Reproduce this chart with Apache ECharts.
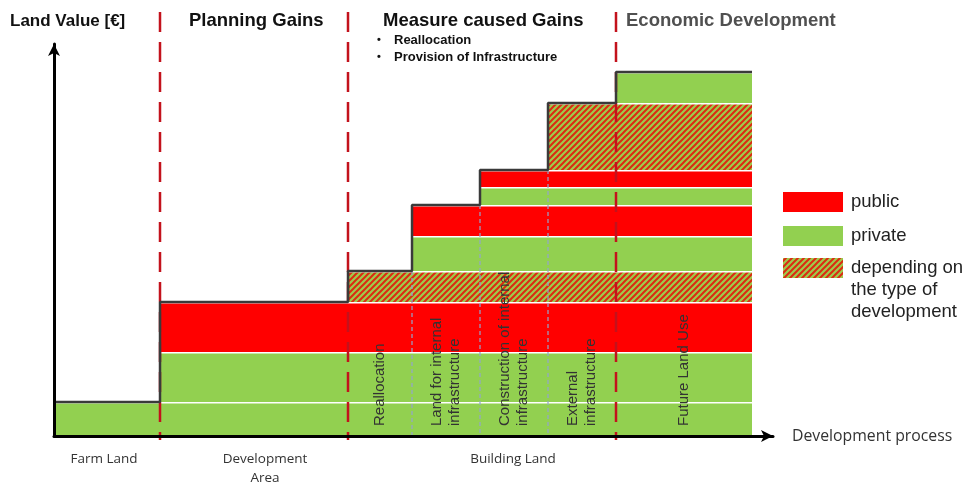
<!DOCTYPE html>
<html>
<head>
<meta charset="utf-8">
<script src="https://cdn.jsdelivr.net/npm/echarts@6/dist/echarts.min.js"></script>
<style>
html, body { margin: 0; padding: 0; background: #fff; }
#chart { width: 969px; height: 482px; }
</style>
</head>
<body>
<div id="chart"></div>
<script>
// column boundaries along the development process
const columnEdges = [0, 106, 294, 358, 426, 494, 562, 698];
const columnNames = ['', '', 'Reallocation', 'Land for internal\ninfrastructure',
    'Construction of internal\ninfrastructure', 'External\ninfrastructure', 'Future Land Use'];
// value layers, bottom to top
const layerHeights = [34, 50, 50, 31, 35, 31, 18, 17, 67, 31];
const layerTypes = [1, 1, 0, 2, 1, 0, 1, 0, 2, 1]; // 0 public, 1 private, 2 depending
const layerFromColumn = [0, 1, 1, 2, 3, 3, 4, 4, 5, 6];
// red phase dividers sit on these column edges, blue ones on the others
const phaseEdgeIdx = [1, 2, 6];
const stepEdgeIdx = [3, 4, 5];
const areaNames = ['Farm Land', 'Development\nArea', 'Building Land'];
const areaCenters = [50, 211, 459];
const legendNames = ['public', 'private', 'depending on\nthe type of\ndevelopment'];

const RED = '#ff0000';
const GREEN = '#92d050';

function hatchCanvas() {
    const s = 6;
    const c = document.createElement('canvas');
    c.width = s;
    c.height = s;
    const g = c.getContext('2d');
    g.fillStyle = '#9ecb4c';
    g.fillRect(0, 0, s, s);
    g.strokeStyle = '#dc2a12';
    g.lineWidth = 2;
    g.beginPath();
    g.moveTo(-1, s + 1); g.lineTo(s + 1, -1);
    g.moveTo(-1, 1); g.lineTo(1, -1);
    g.moveTo(s - 1, s + 1); g.lineTo(s + 1, s - 1);
    g.stroke();
    return c;
}
const HATCH = {image: hatchCanvas(), repeat: 'repeat'};
const fills = [RED, GREEN, HATCH];

const chart = echarts.init(document.getElementById('chart'));

// layer rectangles
const lastX = columnEdges[columnEdges.length - 1];
const layerData = [];
let base = 0;
layerHeights.forEach((h, i) => {
    layerData.push([columnEdges[layerFromColumn[i]], lastX, base, base + h, layerTypes[i]]);
    base += h;
});

// top of every column
const columnTops = [];
for (let c = 0; c < columnEdges.length - 1; c++) {
    let t = 0;
    layerHeights.forEach((h, i) => { if (layerFromColumn[i] <= c) t += h; });
    columnTops.push(t);
}

// stepped outline
const outline = [];
columnTops.forEach((t, c) => {
    outline.push([columnEdges[c], t]);
    outline.push([columnEdges[c + 1], t]);
});

const dividerData = [];
phaseEdgeIdx.forEach(i => dividerData.push([columnEdges[i], 0, 0]));
stepEdgeIdx.forEach(i => dividerData.push([columnEdges[i], columnTops[i - 1], 1]));

const labelData = [];
columnNames.forEach((n, c) => {
    if (n) labelData.push({value: [(columnEdges[c] + columnEdges[c + 1]) / 2], name: n});
});

const areaData = areaNames.map((n, i) => ({value: [areaCenters[i]], name: n}));

const header = (text, x, y, size, color) => ({
    type: 'text',
    style: {
        text: text, x: x, y: y, fill: color || '#111',
        font: 'bold ' + size + 'px "Liberation Sans", Arial, sans-serif',
        verticalAlign: 'middle'
    }
});

const legendY = [202, 236, 268];
const legendGraphics = [];
legendNames.forEach((n, i) => {
    legendGraphics.push({
        type: 'rect',
        shape: {x: 783, y: legendY[i] - 10, width: 60, height: 20},
        style: {fill: fills[i]}
    });
    legendGraphics.push({
        type: 'text',
        style: {
            text: n, x: 851, y: legendY[i] - 11, fill: '#222',
            font: '18.5px "Liberation Sans", Arial, sans-serif',
            lineHeight: 22, verticalAlign: 'top'
        }
    });
});

const option = {
    backgroundColor: '#fff',
    animation: false,
    grid: {left: 54, top: 44, width: 719, height: 392},
    xAxis: {
        type: 'value',
        min: 0,
        max: 719,
        z: 10,
        name: 'Development process',
        nameLocation: 'end',
        nameGap: 19,
        nameTextStyle: {
            fontFamily: '"Open Sans", sans-serif',
            fontSize: 15.8,
            color: '#333',
            verticalAlign: 'middle',
        },
        axisLine: {
            symbol: ['none', 'arrow'],
            symbolSize: [9, 12],
            lineStyle: {color: '#000', width: 3},
        },
        axisTick: {show: false},
        axisLabel: {show: false},
        splitLine: {show: false},
    },
    yAxis: {
        type: 'value',
        min: 0,
        max: 392,
        z: 10,
        axisLine: {
            show: true,
            symbol: ['none', 'arrow'],
            symbolSize: [9, 12],
            lineStyle: {color: '#000', width: 3},
        },
        axisTick: {show: false},
        axisLabel: {show: false},
        splitLine: {show: false},
    },
    graphic: [
        header('Land Value [€]', 10, 21, 17),
        header('Planning Gains', 189, 21, 18.5),
        header('Measure caused Gains', 383, 21, 18.5),
        header('•', 377, 40, 11),
        header('Reallocation', 394, 40, 13),
        header('•', 377, 57, 11),
        header('Provision of Infrastructure', 394, 57, 13),
        header('Economic Development', 626, 21, 18.5, '#505050'),
    ].concat(legendGraphics),
    series: [
        {
            type: 'custom',
            name: 'layers',
            z: 2,
            data: layerData,
            renderItem: function (params, api) {
                const p0 = api.coord([api.value(0), api.value(3)]);
                const p1 = api.coord([api.value(1), api.value(2)]);
                return {
                    type: 'rect',
                    shape: {x: p0[0], y: p0[1] + 1.5, width: p1[0] - p0[0], height: p1[1] - p0[1] - 1.5},
                    style: {fill: fills[api.value(4)]},
                };
            },
        },
        {
            type: 'custom',
            name: 'dividers',
            z: 4,
            data: dividerData,
            renderItem: function (params, api) {
                const red = api.value(2) === 0;
                const top = api.coord([api.value(0), api.value(1)]);
                const bottom = api.coord([api.value(0), 0]);
                return {
                    type: 'line',
                    shape: {
                        x1: top[0], y1: red ? params.coordSys.y - 32 : top[1],
                        x2: bottom[0], y2: red ? bottom[1] + 4 : bottom[1],
                    },
                    style: {
                        stroke: red ? '#c3121c' : '#93a6cc',
                        lineWidth: red ? 2.5 : 1.2,
                        lineDash: red ? [20, 10] : [4, 3],
                    },
                };
            },
        },
        {
            type: 'line',
            name: 'outline',
            z: 5,
            data: outline,
            symbol: 'none',
            lineStyle: {color: '#3a3a3a', width: 2.5},
        },
        {
            type: 'custom',
            name: 'columnLabels',
            z: 6,
            data: labelData,
            renderItem: function (params, api) {
                const p = api.coord([api.value(0), 0]);
                return {
                    type: 'text',
                    x: p[0],
                    y: p[1] - 10,
                    rotation: Math.PI / 2,
                    style: {
                        text: labelData[params.dataIndex].name,
                        fill: '#333',
                        font: '15px "Liberation Sans", Arial, sans-serif',
                        lineHeight: 18,
                        align: 'left',
                        verticalAlign: 'middle',
                    },
                };
            },
        },
        {
            type: 'custom',
            name: 'areas',
            data: areaData,
            renderItem: function (params, api) {
                const p = api.coord([api.value(0), 0]);
                return {
                    type: 'text',
                    x: p[0],
                    y: p[1] + 14,
                    style: {
                        text: areaData[params.dataIndex].name,
                        fill: '#333',
                        font: '13.5px "Open Sans", sans-serif',
                        lineHeight: 19,
                        align: 'center',
                        verticalAlign: 'top',
                    },
                };
            },
        },
    ],
};

chart.setOption(option);
</script>
</body>
</html>
